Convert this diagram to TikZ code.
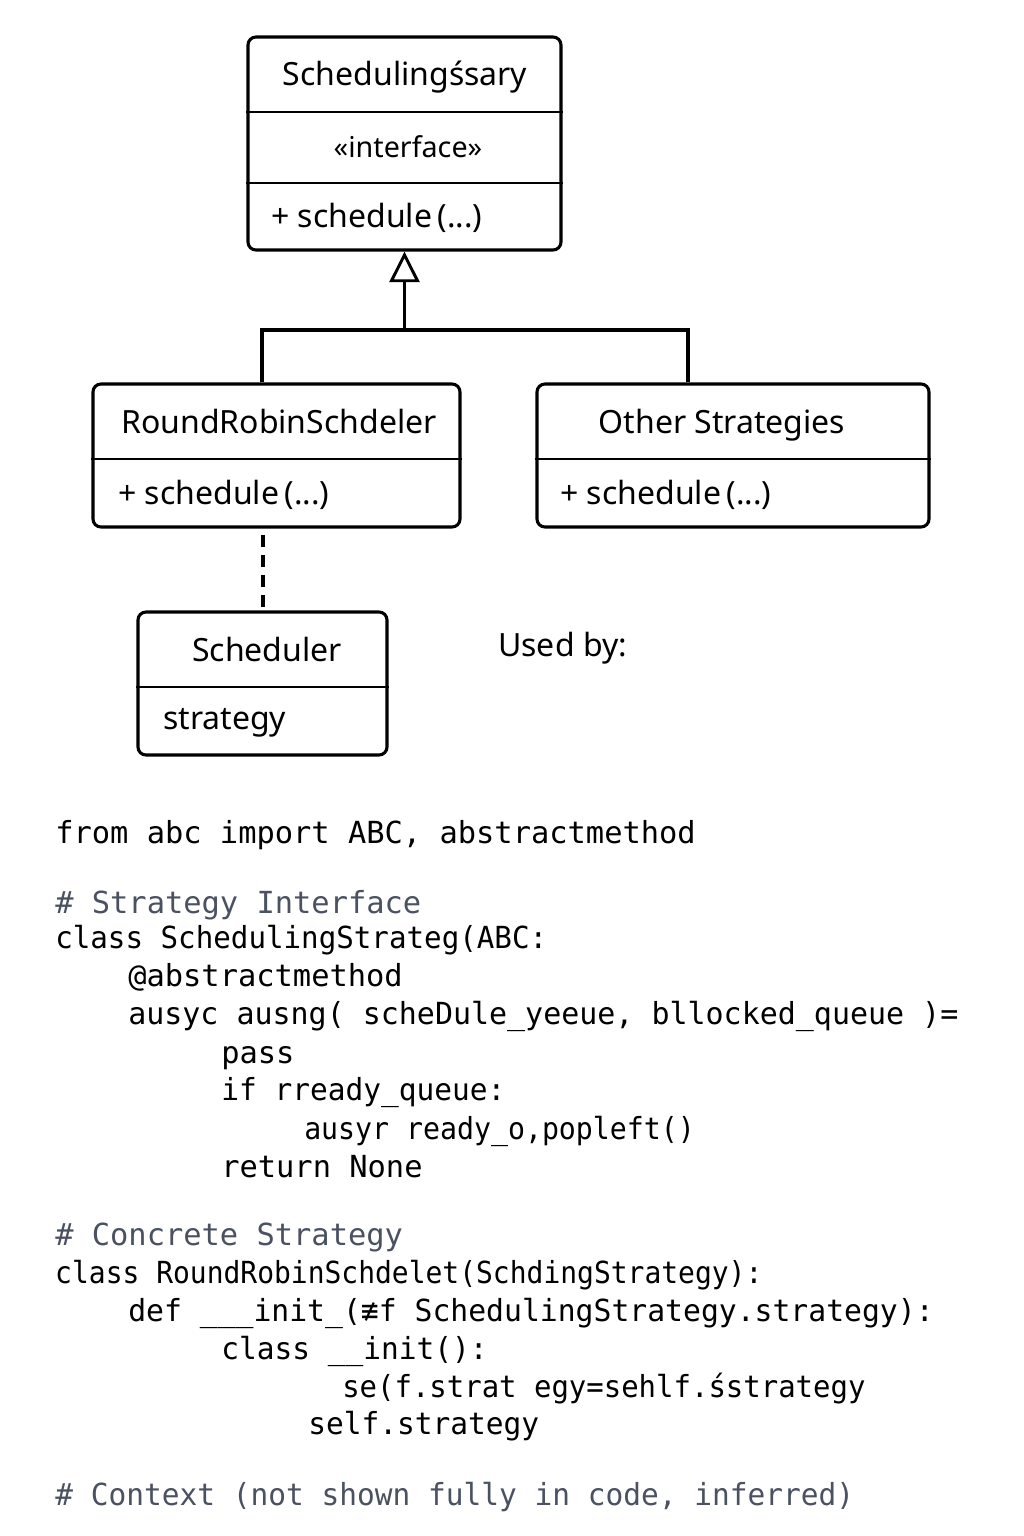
\documentclass[tikz,border=0pt]{standalone}
\usepackage{fontspec}
\setmainfont{Noto Sans}
\newfontfamily\codefont{DejaVu Sans Mono}
\usetikzlibrary{arrows.meta}
\newdimen\pxu \pxu=0.75pt
\definecolor{cmt}{HTML}{4A5262}
\begin{document}
\begin{tikzpicture}[x=0.75pt,y=-0.75pt,
  umlbox/.style={draw, line width=2.3pt, rounded corners=6pt, inner sep=0pt},
  divider/.style={line width=2.2pt},
  conn/.style={line width=2.3pt},
  boxtext/.style={font=\fontsize{24}{28}\selectfont, inner sep=0pt},
  stereo/.style={font=\fontsize{21.5}{25}\selectfont, inner sep=0pt, anchor=base},
  codeline/.style={font=\codefont\fontsize{22.8}{26}\selectfont, anchor=base west, inner sep=0pt},
  comment/.style={codeline, text=cmt}
]
\path[use as bounding box, fill=white] (0,0) rectangle (1024,1536);

% ---------- boxes ----------
\node[umlbox, minimum width=313*\pxu, minimum height=213*\pxu] (iface) at (404.5,143.5) {};
\draw[divider] (iface.west |- 0,112) -- (iface.east |- 0,112);
\draw[divider] (iface.west |- 0,183) -- (iface.east |- 0,183);
\node[boxtext, anchor=base] (ifacetitle) at (405,85) {Schedulingśsary};
\node[stereo] (ifacestereo) at (408,157) {«interface»};
\node[boxtext, anchor=base west] (ifaceop) at (271,227) {+ schedule\,(...)};

\node[umlbox, minimum width=367*\pxu, minimum height=143*\pxu] (rr) at (276.5,455.5) {};
\draw[divider] (rr.west |- 0,459) -- (rr.east |- 0,459);
\node[boxtext, anchor=base] (rrtitle) at (279,433) {RoundRobinSchdeler};
\node[boxtext, anchor=base west] (rrop) at (118,504) {+ schedule\,(...)};

\node[umlbox, minimum width=392*\pxu, minimum height=143*\pxu] (os) at (733,455.5) {};
\draw[divider] (os.west |- 0,459) -- (os.east |- 0,459);
\node[boxtext, anchor=base] (ostitle) at (722,433) {Other Strategies};
\node[boxtext, anchor=base west] (osop) at (560,504) {+ schedule\,(...)};

\node[umlbox, minimum width=249*\pxu, minimum height=143*\pxu] (sched) at (262.5,683.5) {};
\draw[divider] (sched.west |- 0,687) -- (sched.east |- 0,687);
\node[boxtext, anchor=base] (schedtitle) at (267,661) {Scheduler};
\node[boxtext, anchor=base west] (schedattr) at (163,729) {strategy};

\node[boxtext, anchor=base west] (usedby) at (498,656) {Used by:};

% ---------- connectors ----------
\coordinate (ja) at (262,330);
\coordinate (jb) at (688,330);
\draw[conn] (rr.north -| ja) -- (ja) -- (jb) -- (os.north -| jb);
\draw[conn, -{Triangle[open, width=22.5pt, length=23pt, line width=2.2pt]}] (iface.south |- ja) -- (iface.south);
\coordinate (dtop) at (263,535);
\draw[conn, dash pattern=on 9pt off 6pt] (dtop) -- (sched.north -| dtop);

% ---------- code ----------
\node[codeline] (c1) at (55,843) {from abc import ABC, abstractmethod};
\node[comment] (c2) at (55,913) {\# Strategy Interface};
\node[codeline, xscale=0.96] (c3) at (55,948) {class SchedulingStrateg(ABC:};
\node[codeline] (c4) at (128,986) {@abstractmethod};
\node[codeline, xscale=0.986] (c5) at (128,1024) {ausyc ausng( scheDule\_yeeue, bllocked\_queue )=};
\node[codeline] (c6) at (221,1063) {pass};
\node[codeline, xscale=0.97] (c7) at (221,1100) {if rready\_queue:};
\node[codeline, xscale=0.928] (c8) at (304,1139) {ausyr ready\_o,popleft()};
\node[codeline] (c9) at (221,1177) {return None};
\node[comment] (c10) at (55,1245) {\# Concrete Strategy};
\node[codeline, xscale=0.92] (c11) at (55,1283) {class RoundRobinSchdelet(SchdingStrategy):};
\node[codeline, xscale=0.978] (c12) at (128,1321) {def \_\_\_init\_(≢f SchedulingStrategy.strategy):};
\node[codeline, xscale=0.97] (c13) at (221,1359) {class \_\_init():};
\node[codeline, xscale=0.953] (c14) at (342,1397) {se(f.strat egy=sehlf.śstrategy};
\node[codeline, xscale=0.97] (c15) at (308,1434) {self.strategy};
\node[comment, xscale=0.97] (c16) at (55,1505) {\# Context (not shown fully in code, inferred)};
\end{tikzpicture}
\end{document}
